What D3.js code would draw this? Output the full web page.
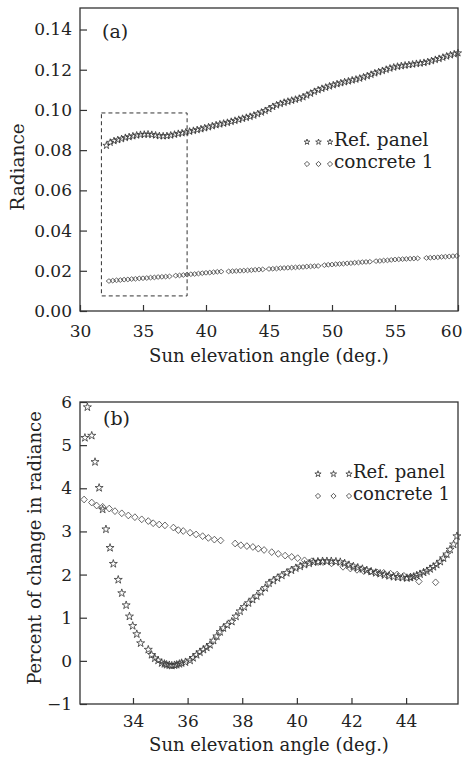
<!DOCTYPE html>
<html>
<head>
<meta charset="utf-8">
<script src="https://cdn.jsdelivr.net/npm/d3@7"></script>
<style>
body { margin: 0; background: #fff; }
</style>
</head>
<body>
<div class="chart"></div>
<script>
// (a) radiance vs sun elevation
var refA_x = [32.1,32.4,32.7,33.0,33.3,33.6,33.9,34.2,34.5,34.8,35.1,35.4,35.7,36.0,36.3,36.6,36.9,37.2,37.5,37.8,
  38.1,38.4,38.7,39.0,39.3,39.6,39.9,40.2,40.5,40.8,41.1,41.4,41.7,42.0,42.3,42.6,42.9,43.2,43.5,43.8,
  44.1,44.4,44.7,45.0,45.3,45.6,45.9,46.2,46.5,46.8,47.1,47.4,47.7,48.0,48.3,48.6,48.9,49.2,49.5,49.8,
  50.1,50.4,50.7,51.0,51.3,51.6,51.9,52.2,52.5,52.8,53.1,53.4,53.7,54.0,54.3,54.6,54.9,55.2,55.5,55.8,
  56.1,56.4,56.7,57.0,57.3,57.6,57.9,58.2,58.5,58.8,59.1,59.4,59.7,60.0]
var refA_y = [.0823,.0838,.0846,.0851,.0856,.0862,.0866,.0870,.0874,.0877,.0878,.0879,.0877,.0874,.0871,.0870,.0871,.0874,.0878,.0882,
  .0885,.0889,.0893,.0897,.0901,.0905,.0910,.0915,.0920,.0925,.0929,.0933,.0937,.0942,.0947,.0952,.0957,.0962,.0967,.0973,
  .0980,.0988,.0996,.1005,.1016,.1024,.1031,.1037,.1042,.1047,.1052,.1057,.1064,.1073,.1082,.1091,.1099,.1106,.1112,.1118,
  .1124,.1129,.1134,.1139,.1143,.1148,.1152,.1157,.1163,.1169,.1176,.1183,.1189,.1195,.1201,.1207,.1212,.1216,.1219,.1222,
  .1224,.1227,.1230,.1232,.1235,.1239,.1244,.1250,.1255,.1261,.1267,.1273,.1278,.1283]
var conA_x = [32.3,32.6,32.9,33.2,33.5,33.8,34.1,34.4,34.7,35.0,35.3,35.6,35.9,36.2,36.5,36.8,37.1,
  37.6,37.9,38.2,38.5,38.8,39.1,39.4,39.7,40.0,40.3,40.6,40.9,41.2,
  41.8,42.1,42.4,42.7,43.0,43.3,43.6,43.9,44.2,44.5,
  45.0,45.3,45.6,45.9,46.2,46.5,46.8,47.1,47.4,47.7,48.0,48.3,48.6,48.9,
  49.4,49.7,50.0,50.3,50.6,50.9,51.2,51.5,51.8,52.1,52.4,52.7,53.0,
  53.5,53.8,54.1,54.4,54.7,55.0,55.3,55.6,55.9,56.2,56.5,56.8,
  57.5,57.8,58.1,58.4,58.7,59.0,59.3,59.6,59.9]
var conA_y = [.0149,.0151,.0153,.0154,.0156,.0157,.0159,.0160,.0162,.0163,.0164,.0166,.0167,.0169,.0170,.0171,.0172,
  .0176,.0177,.0179,.0181,.0183,.0184,.0186,.0188,.0190,.0191,.0193,.0195,.0196,
  .0197,.0198,.0199,.0200,.0201,.0202,.0203,.0205,.0206,.0207,
  .0209,.0210,.0211,.0213,.0214,.0215,.0216,.0217,.0218,.0219,.0221,.0222,.0223,.0224,
  .0228,.0230,.0231,.0233,.0234,.0235,.0237,.0238,.0240,.0241,.0243,.0244,.0245,
  .0248,.0249,.0251,.0252,.0254,.0256,.0257,.0258,.0259,.0260,.0261,.0262,
  .0264,.0265,.0266,.0267,.0269,.0270,.0271,.0273,.0274]

// (b) percent change in radiance
var refB_x = [32.24,32.33,32.49,32.61,32.76,32.89,33.01,33.16,33.28,33.46,33.59,33.75,33.87,33.99,34.14,34.28,34.56,34.68,34.80,34.92,
  35.05,35.15,35.23,35.33,35.42,35.52,35.60,35.70,35.78,35.92,36.09,36.20,36.33,36.45,36.58,36.70,36.82,36.95,37.07,37.19,
  37.31,37.45,37.62,37.77,37.92,38.07,38.23,38.38,38.53,38.68,38.84,38.98,39.14,39.29,39.45,39.63,39.80,39.96,40.12,40.28,
  40.45,40.61,40.77,40.94,41.10,41.26,41.43,41.59,41.75,41.91,42.07,42.23,42.40,42.56,42.72,42.89,43.05,43.21,43.38,43.54,
  43.70,43.87,44.03,44.16,44.28,44.39,44.51,44.64,44.76,44.88,45.00,45.12,45.25,45.37,45.49,45.61,45.74,45.86]
var refB_y = [5.17,5.88,5.22,4.61,4.01,3.51,3.05,2.62,2.25,1.88,1.57,1.29,1.03,0.81,0.62,0.41,0.26,0.14,0.06,0.01,
  -0.05,-0.07,-0.09,-0.10,-0.11,-0.10,-0.09,-0.07,-0.05,-0.03,0.01,0.07,0.14,0.20,0.26,0.31,0.37,0.47,0.57,0.67,
  0.76,0.83,0.91,1.03,1.15,1.25,1.34,1.42,1.50,1.60,1.69,1.80,1.86,1.92,1.98,2.04,2.10,2.15,2.19,2.23,
  2.26,2.29,2.30,2.31,2.31,2.31,2.30,2.29,2.26,2.22,2.19,2.16,2.13,2.10,2.07,2.04,2.02,1.99,1.97,1.95,
  1.94,1.93,1.92,1.93,1.95,1.98,2.01,2.05,2.08,2.13,2.18,2.23,2.30,2.38,2.47,2.58,2.70,2.89]
var conB_x = [32.21,32.49,32.67,32.89,33.13,33.34,33.59,33.83,34.07,34.32,34.56,34.74,34.96,35.17,
  35.48,35.66,35.84,36.09,36.31,36.55,36.76,36.98,37.21,
  37.74,37.95,38.17,38.39,38.59,38.80,39.08,39.32,39.57,39.81,40.03,40.28,40.55,40.78,40.96,41.27,
  41.69,41.96,42.20,42.45,42.69,42.94,43.18,43.43,43.67,43.92,44.16,44.47,45.08]
var conB_y = [3.74,3.67,3.60,3.57,3.53,3.47,3.42,3.37,3.33,3.28,3.24,3.19,3.16,3.14,
  3.09,3.03,3.01,2.97,2.93,2.89,2.85,2.81,2.79,
  2.72,2.68,2.66,2.64,2.60,2.57,2.52,2.48,2.44,2.41,2.38,2.33,2.31,2.29,2.29,2.26,
  2.18,2.14,2.11,2.08,2.07,2.05,2.04,2.02,2.00,1.97,1.95,1.84,1.82]

// ticks
var xTicksA = [30, 35, 40, 45, 50, 55, 60]
var yTicksA = [0, 0.02, 0.04, 0.06, 0.08, 0.10, 0.12, 0.14]
var yLabelsA = ["0.00", "0.02", "0.04", "0.06", "0.08", "0.10", "0.12", "0.14"]
var xTicksB = [34, 36, 38, 40, 42, 44]
var yTicksB = [-1, 0, 1, 2, 3, 4, 5, 6]
var yLabelsB = ["\u22121", "0", "1", "2", "3", "4", "5", "6"]
var seriesNames = ["Ref. panel", "concrete 1"]
var boxA = [31.7, 38.5, 0.0075, 0.0985]   // dashed box (x0, x1, y0, y1)

var FONT = "DejaVu Serif"
var INK = "#222"

var svg = d3.select(".chart")
    .append("svg")
    .attr("width", 464)
    .attr("height", 758)

var xa = d3.scaleLinear().domain([30, 60]).range([80, 458])
var ya = d3.scaleLinear().domain([0, 0.1507]).range([311, 8])
var xb = d3.scaleLinear().domain([32.06, 45.9]).range([80, 458])
var yb = d3.scaleLinear().domain([-1, 6]).range([704, 402])

var starPath = d3.symbol().type(d3.symbolStar)
function diamond(w, h) {
    return "M0," + (-h) + "L" + w + ",0L0," + h + "L" + (-w) + ",0Z"
}

function frame(x, y) {
    svg.append("rect")
        .attr("x", x.range()[0])
        .attr("y", y.range()[1])
        .attr("width", x.range()[1] - x.range()[0])
        .attr("height", y.range()[0] - y.range()[1])
        .style("fill", "none")
        .style("stroke", "#333")
        .style("stroke-width", 1.3)
}

function axes(x, y, xt, yt, ylab, xpad) {
    var gx = svg.append("g")
        .attr("transform", "translate(0," + y.range()[0] + ")")
        .call(d3.axisBottom(x).tickValues(xt).tickSize(-6).tickSizeOuter(0).tickPadding(xpad))
    var gy = svg.append("g")
        .attr("transform", "translate(" + x.range()[0] + ",0)")
        .call(d3.axisLeft(y).tickValues(yt).tickFormat((d, i) => ylab[i]).tickSize(-7).tickSizeOuter(0).tickPadding(8))
    ;[gx, gy].forEach(g => {
        g.select(".domain").remove()
        g.selectAll("line").style("stroke", "#333").style("stroke-width", 1.2)
        g.selectAll("text")
            .attr("font-family", FONT)
            .style("font-size", "17px")
            .attr("fill", INK)
    })
    // last x label sits at the right edge of the page
    gx.selectAll(".tick text")
        .filter(d => x(d) > x.range()[1] - 1)
        .attr("text-anchor", "end")
        .attr("x", 4)
}

function label(text, x, y, rot, size) {
    svg.append("text")
        .attr("transform", "translate(" + x + "," + y + ")" + (rot ? " rotate(-90)" : ""))
        .attr("text-anchor", "middle")
        .attr("font-family", FONT)
        .style("font-size", size + "px")
        .attr("fill", INK)
        .text(text)
}

function stars(xs, ys, x, y, size) {
    svg.append("g").selectAll("path")
        .data(xs)
        .join("path")
        .attr("d", starPath.size(size)())
        .attr("transform", (d, i) => "translate(" + x(d) + "," + y(ys[i]) + ")")
        .style("fill", "none")
        .style("stroke", "#333")
        .style("stroke-width", 0.8)
}

function diamonds(xs, ys, x, y, w, h) {
    svg.append("g").selectAll("path")
        .data(xs)
        .join("path")
        .attr("d", diamond(w, h))
        .attr("transform", (d, i) => "translate(" + x(d) + "," + y(ys[i]) + ")")
        .style("fill", "none")
        .style("stroke", "#444")
        .style("stroke-width", 0.8)
}

function legend(x0, gap, y0, dy, size, fs) {
    seriesNames.forEach((name, k) => {
        for (var j = 0; j < 3; j++) {
            svg.append("path")
                .attr("d", k == 0 ? starPath.size(size)() : diamond(2.6, 2.6))
                .attr("transform", "translate(" + (x0 + j * gap) + "," + (y0 + k * dy - 4) + ")")
                .style("fill", "none")
                .style("stroke", "#333")
                .style("stroke-width", 0.8)
        }
        svg.append("text")
            .attr("x", x0 + 2 * gap + 4)
            .attr("y", y0 + k * dy)
            .attr("font-family", FONT)
            .style("font-size", fs + "px")
            .attr("fill", INK)
            .text(name)
    })
}

// ---- panel (a)
frame(xa, ya)
axes(xa, ya, xTicksA, yTicksA, yLabelsA, 14)
svg.append("rect")
    .attr("x", xa(boxA[0]))
    .attr("y", ya(boxA[3]))
    .attr("width", xa(boxA[1]) - xa(boxA[0]))
    .attr("height", ya(boxA[2]) - ya(boxA[3]))
    .style("fill", "none")
    .style("stroke", "#333")
    .style("stroke-width", 1)
    .style("stroke-dasharray", "4,3")
diamonds(conA_x, conA_y, xa, ya, 2.8, 2.3)
stars(refA_x, refA_y, xa, ya, 16)
svg.append("text").attr("x", 102).attr("y", 38)
    .attr("font-family", FONT).style("font-size", "19px").attr("fill", INK).text("(a)")
legend(307, 11.5, 146, 22, 10, 18.5)
label("Sun elevation angle (deg.)", 269, 362, false, 18)
label("Radiance", 24, 167, true, 18.5)

// ---- panel (b)
frame(xb, yb)
axes(xb, yb, xTicksB, yTicksB, yLabelsB, 11)
diamonds(conB_x, conB_y, xb, yb, 3.2, 3.4)
stars(refB_x, refB_y, xb, yb, 20)
svg.append("text").attr("x", 103).attr("y", 425)
    .attr("font-family", FONT).style("font-size", "19px").attr("fill", INK).text("(b)")
legend(318, 15.5, 478, 22, 12, 18)
label("Sun elevation angle (deg.)", 269, 751, false, 18)
label("Percent of change in radiance", 41, 548, true, 18)
</script>
</body>
</html>
